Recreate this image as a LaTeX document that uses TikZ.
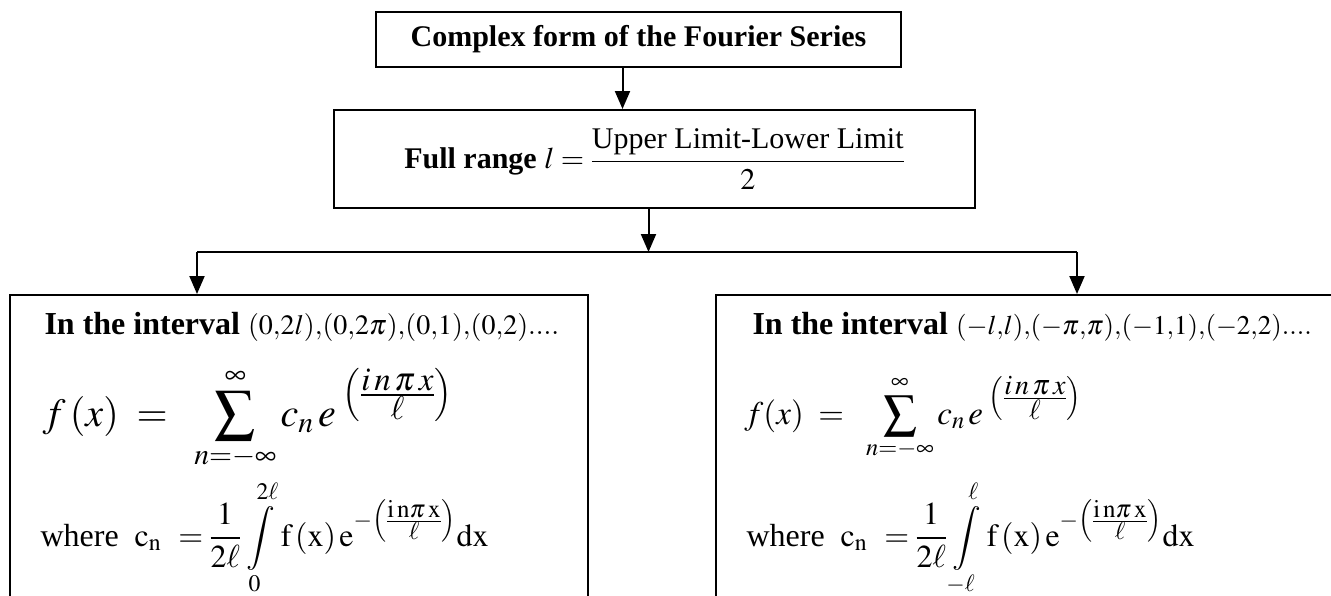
\documentclass[tikz,border=0pt]{standalone}
\usepackage{mathptmx}
\usepackage{amsmath}
\usepackage[no-math]{fontspec}
\setmainfont{Liberation Serif}
\usepackage{tikz}
\usetikzlibrary{positioning,arrows.meta}
\definecolor{inkline}{RGB}{0,0,0}
\tikzset{
  stagebox/.style={draw=inkline, line width=2pt, inner sep=0pt},
  flowarrow/.style={draw=inkline, line width=2pt, -{Triangle[length=18pt,width=15pt]}},
  flowline/.style={draw=inkline, line width=2pt},
}
\newcommand{\fsz}[1]{\fontsize{#1}{#1}\selectfont}
% exponent (i n pi x / ell) at a given size, italic and upright forms
\newcommand{\expit}[1]{\left(\frac{\mbox{\fsz{#1}$i\,n\,\pi\,x$}}{\mbox{\fsz{#1}$\ell$}}\right)}
\newcommand{\exprm}[1]{\left(\frac{\mbox{\fsz{#1}$\mathrm{i\,n}\pi\,\mathrm{x}$}}{\mbox{\fsz{#1}$\ell$}}\right)}

\begin{document}
\begin{tikzpicture}[x=1pt, y=-1pt, every node/.style={font=\fsz{30}}]
  \clip (0,0) rectangle (1331,595);

  % Title and range boxes
  \node[stagebox, minimum width=525pt, minimum height=55pt] (title)
    at (638.5, 39.5) {\textbf{Complex form of the Fourier Series}};
  \node[stagebox, minimum width=641pt, minimum height=98pt] (range)
    at (654.5, 159) {\textbf{Full range} $l=\dfrac{\text{Upper Limit-Lower Limit}}{2}$};

  % Interval boxes (cut off at the bottom)
  \node[stagebox, minimum width=578pt, minimum height=405pt] (fullbox) at (299, 497.5) {};
  \node[stagebox, minimum width=734pt, minimum height=405pt] (symbox) at (1083, 497.5) {};

  % Left box contents
  \node[anchor=base west, font=\fsz{32}] (fullint)
    at ([xshift=32pt, yshift=-40pt]fullbox.north west)
    {\textbf{In the interval}\ {\fsz{28}$(0{,}2l){,}(0{,}2\pi){,}(0{,}1){,}(0{,}2)....$}};
  \node[anchor=base west, font=\fsz{40}] (fullsum)
    at ([xshift=30pt, yshift=-132pt]fullbox.north west)
    {$f\,(x)\;=\;\;\displaystyle\sum_{n=-\infty}^{\infty}c_n\,e^{\;\expit{33}}$};
  \node[anchor=base west, font=\fsz{32}] (fullcoef)
    at ([xshift=28pt, yshift=-252pt]fullbox.north west)
    {where~~$\mathrm{c_n}\hspace{10pt}=\hspace{-1pt}\dfrac{1}{2\ell}\hspace{2pt}\displaystyle\int\limits_0^{2\ell}\hspace{2pt}\mathrm{f\,(x)\,e}^{-\exprm{25}}\mathrm{dx}$};

  % Right box contents
  \node[anchor=base west, font=\fsz{32}] (symint)
    at ([xshift=34pt, yshift=-40pt]symbox.north west)
    {\textbf{In the interval}\ {\fsz{27}$(-l{,}l){,}(-\pi{,}\pi){,}(-1{,}1){,}(-2{,}2)....$}};
  \node[anchor=base west, font=\fsz{33}] (symsum)
    at ([xshift=26pt, yshift=-130pt]symbox.north west)
    {$f(x)\;=\;\;\displaystyle\sum_{n=-\infty}^{\infty}c_n\,e^{\;\expit{28}}$};
  \node[anchor=base west, font=\fsz{32}] (symcoef)
    at ([xshift=28pt, yshift=-252pt]symbox.north west)
    {where~~$\mathrm{c_n}\hspace{10pt}=\hspace{-1pt}\dfrac{1}{2\ell}\hspace{2pt}\displaystyle\int\limits_{-\ell}^{\ell}\hspace{2pt}\mathrm{f\,(x)\,e}^{-\exprm{25}}\mathrm{dx}$};

  % Connectors
  \coordinate (fullhook) at (197, 252);
  \coordinate (symhook) at (1077, 252);
  \draw[flowarrow] ([xshift=-16pt]title.south) -- ([xshift=-16pt]title.south |- range.north);
  \draw[flowarrow] ([xshift=-6pt]range.south) -- ([xshift=-6pt]range.south |- fullhook);
  \draw[flowline] (fullhook) -- (symhook);
  \draw[flowarrow] (fullhook) -- (fullhook |- fullbox.north);
  \draw[flowarrow] (symhook) -- (symhook |- symbox.north);
\end{tikzpicture}
\end{document}
